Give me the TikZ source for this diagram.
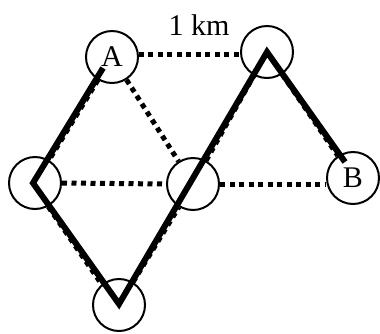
\documentclass[tikz,border=0pt]{standalone}
\usepackage{fontspec}
\setmainfont{Liberation Serif}
\begin{document}
\begin{tikzpicture}[x=1pt,y=-1pt,
  stn/.style={circle,draw,line width=2pt,minimum size=52pt,inner sep=0pt,font=\fontsize{30}{31}\selectfont},
  dotline/.style={line width=5pt,dash pattern=on 5pt off 4.5pt},
  route/.style={line width=6pt,miter limit=10}]
\useasboundingbox (0,0) rectangle (380,333);
\node[stn] (A) at (112,57) {A};
\node[stn] (T) at (267,52) {};
\node[stn] (L) at (35,183) {};
\node[stn] (M) at (193,184) {};
\node[stn] (B) at (353,178) {B};
\node[stn] (D) at (119,305) {};
\node[anchor=base,font=\fontsize{30}{31}\selectfont,inner sep=0pt] (lbl) at (199,35) {1 km};
% dotted connections
\draw[dotline] (A.6) -- (T.west |- A.6);
\draw[dotline] (L.east) -- (M.west);
\draw[dotline] (M.east) -- (B.west |- M.east);
\draw[dotline] (A) -- (M);
\draw[dotline] (A) -- (L);
\draw[dotline,transform canvas={shift={(-2,1.5)}}] (L) -- (D);
\draw[dotline] (D) -- (M);
\draw[dotline] (M) -- (T);
\draw[dotline] (T) -- (B);
% route
\coordinate (r0) at (103,68);
\coordinate (r1) at (33,183);
\coordinate (r2) at (119,304);
\coordinate (r3) at (267,52);
\coordinate (r4) at (345,162);
\draw[route] (r0) -- (r1) -- (r2) -- (r3) -- (r4);
\end{tikzpicture}
\end{document}
